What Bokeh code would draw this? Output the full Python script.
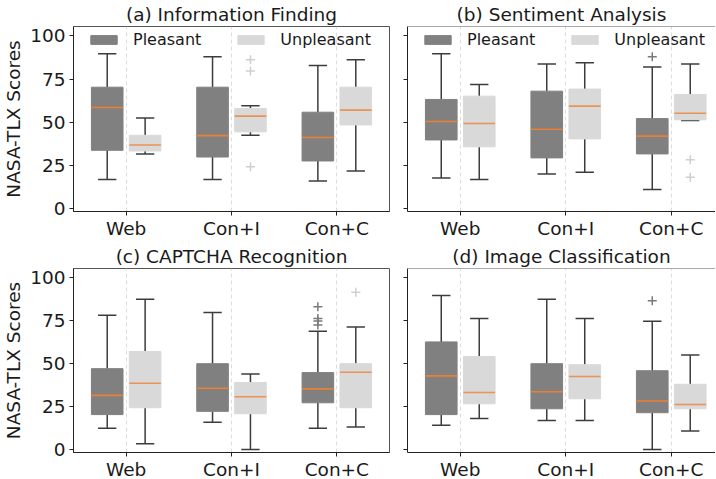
from bokeh.plotting import figure
from bokeh.layouts import column, row
from bokeh.models import FixedTicker, Legend, LegendItem, Span
from bokeh.embed import file_html
from bokeh.resources import INLINE

CATEGORIES = ["Web", "Con+I", "Con+C"]
Y_TICKS = [0, 25, 50, 75, 100]
TITLES = ["(a) Information Finding", "(b) Sentiment Analysis",
          "(c) CAPTCHA Recognition", "(d) Image Classification"]
SERIES = ["Pleasant", "Unpleasant"]

# per category: (whisker_low, q1, median, q3, whisker_high)
INFO_PLEASANT = [(16.7, 33.7, 58.5, 70.3, 89.7), (16.7, 29.8, 42.2, 70.3, 88.0), (15.9, 27.5, 41.1, 55.8, 82.9)]
INFO_UNPLEASANT = [(31.6, 33.3, 36.8, 42.4, 52.5), (42.4, 44.4, 53.5, 57.9, 59.5), (21.7, 48.4, 57.0, 70.3, 86.2)]
INFO_PLEASANT_OUT = [[], [], []]
INFO_UNPLEASANT_OUT = [[], [86.2, 79.7, 24.2], []]

SENT_PLEASANT = [(17.6, 39.7, 50.4, 63.2, 89.7), (20.0, 29.3, 45.9, 68.0, 83.7), (10.9, 31.6, 41.9, 52.1, 82.0)]
SENT_UNPLEASANT = [(16.7, 35.7, 49.2, 65.1, 71.9), (20.9, 40.3, 59.3, 69.2, 84.5), (51.0, 51.4, 55.2, 66.1, 83.7)]
SENT_PLEASANT_OUT = [[], [], [88.0]]
SENT_UNPLEASANT_OUT = [[], [], [28.2, 18.0]]

CAPT_PLEASANT = [(12.4, 20.3, 31.5, 47.1, 78.2), (15.8, 22.2, 35.7, 50.0, 79.9), (12.4, 27.2, 35.3, 44.8, 68.9)]
CAPT_UNPLEASANT = [(3.3, 24.3, 38.6, 57.1, 87.5), (0.0, 20.8, 30.7, 39.0, 44.0), (13.1, 24.3, 45.0, 50.0, 71.4)]
CAPT_PLEASANT_OUT = [[], [], [83.2, 76.3, 74.9, 72.6]]
CAPT_UNPLEASANT_OUT = [[], [], [91.7]]

IMG_PLEASANT = [(14.1, 20.3, 42.9, 62.7, 89.8), (16.8, 23.7, 33.6, 50.0, 87.5), (0.0, 21.4, 28.2, 45.9, 74.7)]
IMG_UNPLEASANT = [(18.1, 26.6, 33.2, 54.2, 76.4), (16.8, 29.5, 42.5, 49.4, 76.4), (10.8, 23.7, 26.2, 38.0, 55.0)]
IMG_PLEASANT_OUT = [[], [], [86.7]]
IMG_UNPLEASANT_OUT = [[], [], []]

PANELS = [
    (INFO_PLEASANT, INFO_UNPLEASANT, INFO_PLEASANT_OUT, INFO_UNPLEASANT_OUT),
    (SENT_PLEASANT, SENT_UNPLEASANT, SENT_PLEASANT_OUT, SENT_UNPLEASANT_OUT),
    (CAPT_PLEASANT, CAPT_UNPLEASANT, CAPT_PLEASANT_OUT, CAPT_UNPLEASANT_OUT),
    (IMG_PLEASANT, IMG_UNPLEASANT, IMG_PLEASANT_OUT, IMG_UNPLEASANT_OUT),
]

FONT = "DejaVu Sans"
FS = "18.5px"
FILLS = ["#808080", "#d9d9d9"]
OUT_COLORS = ["#7a7a7a", "#cfcfcf"]
WHISK = "#3c3c3c"
MED = "#f08030"
OFFSETS = [-0.18, 0.18]
BOX_W = 0.30
CAP_HALF = 0.087
Y_RANGE = (-1.8, 105.5)


def make_panel(idx):
    left = idx % 2 == 0
    top = idx < 2
    frame_w = 316 if left else 308
    x_end = 3.5 if left else 0.5 + frame_w / 105.5
    mb_left = 65 if left else 9
    mb_right = 9 if left else 0
    mb_top = 19 if top else 27
    mb_bottom = 28 if top else 26
    frame_h = 185 if top else 184
    p = figure(frame_width=frame_w, frame_height=frame_h,
               x_range=(0.5, x_end), y_range=Y_RANGE,
               output_backend="svg", toolbar_location=None,
               min_border_left=mb_left, min_border_right=mb_right,
               min_border_top=mb_top, min_border_bottom=mb_bottom)
    p.title.text = TITLES[idx]
    p.title.align = "center"
    p.title.text_font = FONT
    p.title.text_font_size = FS
    p.title.text_font_style = "normal"
    p.title.text_color = "#1a1a1a"
    p.title.standoff = 3
    p.title.offset = 0

    if left:
        p.outline_line_color = "#555555"
    else:
        p.outline_line_color = None
        p.add_layout(Span(location=Y_RANGE[1], dimension="width", line_color="#555555", line_width=1))

    p.ygrid.visible = False
    p.xgrid.ticker = FixedTicker(ticks=[1, 2, 3])
    p.xgrid.grid_line_color = "#dcdcdc"
    p.xgrid.grid_line_dash = "4 3"
    p.xgrid.grid_line_width = 1

    p.xaxis.ticker = FixedTicker(ticks=[1, 2, 3])
    p.xaxis.major_label_overrides = {i + 1: c for i, c in enumerate(CATEGORIES)}
    p.yaxis.ticker = FixedTicker(ticks=Y_TICKS)
    for ax in (p.xaxis, p.yaxis):
        ax.minor_tick_line_color = None
        ax.major_tick_out = 4
        ax.major_tick_in = 0
        ax.axis_line_color = "#222222"
        ax.major_tick_line_color = "#222222"
        ax.major_label_text_font = FONT
        ax.major_label_text_font_size = FS
        ax.major_label_text_color = "#1a1a1a"
    p.xaxis.major_label_standoff = 2
    if left:
        p.yaxis.axis_label = "NASA-TLX Scores"
        p.yaxis.axis_label_text_font = FONT
        p.yaxis.axis_label_text_font_size = FS
        p.yaxis.axis_label_text_font_style = "normal"
        p.yaxis.axis_label_text_color = "#1a1a1a"
        p.yaxis.axis_label_standoff = 3
        p.yaxis.major_label_standoff = 4
    else:
        p.yaxis.major_label_overrides = {t: "" for t in Y_TICKS}
        p.yaxis.major_label_standoff = 0

    stats_sets = PANELS[idx][:2]
    outs_sets = PANELS[idx][2:]
    box_renderers = []
    for s in range(2):
        stats = stats_sets[s]
        xs = [i + 1 + OFFSETS[s] for i in range(len(CATEGORIES))]
        lo = [st[0] for st in stats]
        q1 = [st[1] for st in stats]
        md = [st[2] for st in stats]
        q3 = [st[3] for st in stats]
        hi = [st[4] for st in stats]
        p.segment(x0=xs, y0=q3, x1=xs, y1=hi, line_color=WHISK, line_width=1.5)
        p.segment(x0=xs, y0=q1, x1=xs, y1=lo, line_color=WHISK, line_width=1.5)
        p.segment(x0=[x - CAP_HALF for x in xs], y0=hi, x1=[x + CAP_HALF for x in xs], y1=hi,
                  line_color=WHISK, line_width=1.5)
        p.segment(x0=[x - CAP_HALF for x in xs], y0=lo, x1=[x + CAP_HALF for x in xs], y1=lo,
                  line_color=WHISK, line_width=1.5)
        r = p.vbar(x=xs, width=BOX_W, bottom=q1, top=q3, fill_color=FILLS[s], line_color=FILLS[s])
        box_renderers.append(r)
        p.segment(x0=[x - BOX_W / 2 for x in xs], y0=md, x1=[x + BOX_W / 2 for x in xs], y1=md,
                  line_color=MED, line_width=1.6, line_alpha=0.95 if s == 0 else 0.8)
        ox, oy = [], []
        for i, vals in enumerate(outs_sets[s]):
            for v in vals:
                ox.append(xs[i])
                oy.append(v)
        if ox:
            p.scatter(x=ox, y=oy, marker="cross", size=9, line_color=OUT_COLORS[s], line_width=1.5)

    if top:
        legend = Legend(items=[LegendItem(label=SERIES[k], renderers=[box_renderers[k]]) for k in range(2)],
                        orientation="horizontal", location=(14, frame_h - 3 - 20),
                        glyph_width=33, glyph_height=11, label_standoff=13, spacing=33,
                        label_text_font=FONT, label_text_font_size="16px", label_text_color="#1a1a1a",
                        label_height=20, border_line_color=None, background_fill_alpha=0,
                        padding=0, margin=0)
        p.add_layout(legend)
    return p


figs = [make_panel(i) for i in range(4)]
layout = column(row(figs[0], figs[1]), row(figs[2], figs[3]))
open("out.html", "w").write(file_html(layout, INLINE))
